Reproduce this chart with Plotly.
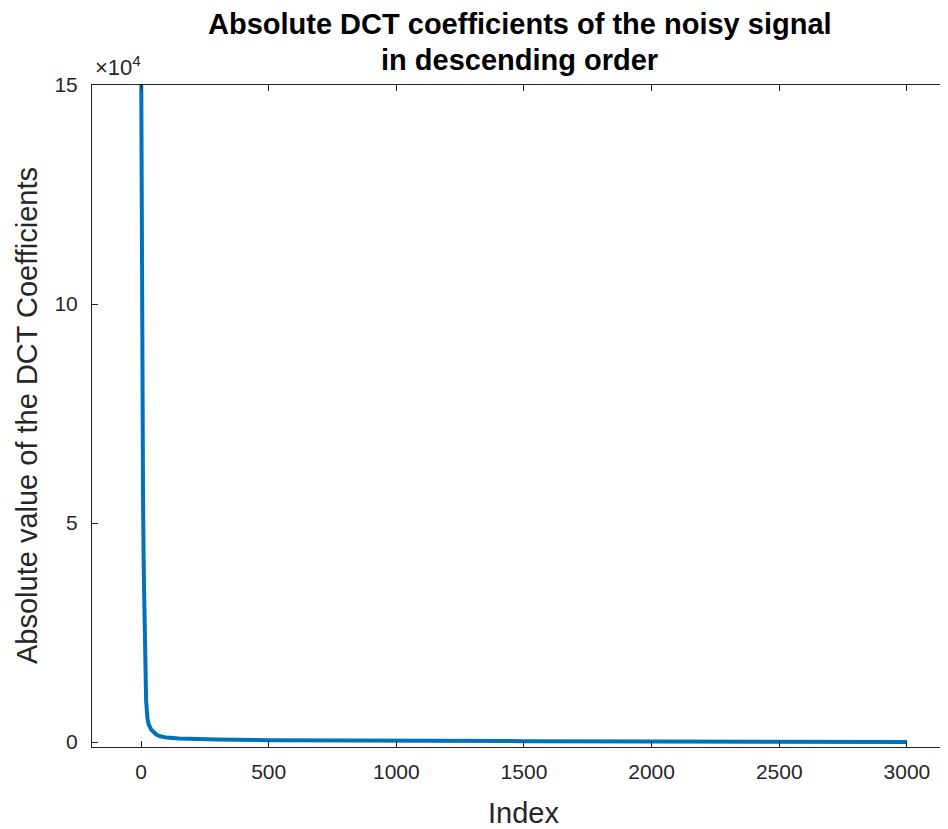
import plotly.graph_objects as go

# sorted |DCT| coefficients at key indices
index = [1, 2, 3, 5, 8, 11, 14, 17, 20, 25, 30, 40, 50, 60, 75, 100,
         150, 200, 300, 500, 750, 1000, 1500, 2000, 2500, 3000]
abs_coef = [150000, 128000, 110000, 85000, 55000, 38000, 25000, 15000, 9500,
            5500, 4000, 2800, 2100, 1700, 1300, 1000, 800, 700, 550, 420,
            330, 270, 190, 130, 80, 20]

x_ticks = [0, 500, 1000, 1500, 2000, 2500, 3000]
y_ticks = [0, 50000, 100000, 150000]
y_tick_labels = ["0", "5", "10", "15"]

title_lines = ["Absolute DCT coefficients of the noisy signal", "in descending order"]

axis_col = "#262626"
font = "Liberation Sans, Arial, sans-serif"

fig = go.Figure(go.Scatter(
    x=index, y=abs_coef, mode="lines",
    line=dict(color="#0072BD", width=4),
    showlegend=False,
))

axis_common = dict(
    showgrid=False, zeroline=False, showline=True, linecolor=axis_col,
    linewidth=1, mirror="ticks", ticks="inside", ticklen=6, tickwidth=1,
    tickcolor=axis_col, tickfont=dict(family=font, size=21, color=axis_col),
    automargin=False,
)

# the page body adds an 8px offset, so the figure is 8px smaller
fig.update_layout(
    width=940, height=821,
    paper_bgcolor="white", plot_bgcolor="white",
    margin=dict(l=84, r=1, t=77, b=82),
    xaxis=dict(range=[-192, 3157], tickvals=x_ticks, ticklabelstandoff=6,
               **axis_common),
    yaxis=dict(range=[-1142, 150000], tickvals=y_ticks, ticktext=y_tick_labels,
               ticklabelstandoff=9, **axis_common),
)

anns = [
    dict(text="<b>" + title_lines[0] + "</b>", x=0.5, y=1, yshift=85 - 24,
         font=dict(size=29, color="black")),
    dict(text="<b>" + title_lines[1] + "</b>", x=0.5, y=1, yshift=85 - 60,
         font=dict(size=29, color="black")),
    dict(text="×10<sup>4</sup>", x=0, y=1, xanchor="left", yanchor="middle",
         xshift=1, yshift=85 - 66, font=dict(size=22, color=axis_col)),
    dict(text="Index", x=0.5, y=0, xshift=4, yshift=-(813 - 747),
         font=dict(size=29, color=axis_col)),
    dict(text="Absolute value of the DCT Coefficients", x=0, y=0.5,
         xshift=-(92 - 27), textangle=-90, font=dict(size=29, color=axis_col)),
]
for a in anns:
    a.setdefault("xanchor", "center")
    a.setdefault("yanchor", "middle")
    a["font"]["family"] = font
    fig.add_annotation(xref="paper", yref="paper", showarrow=False, **a)

fig.write_html("out.html")
